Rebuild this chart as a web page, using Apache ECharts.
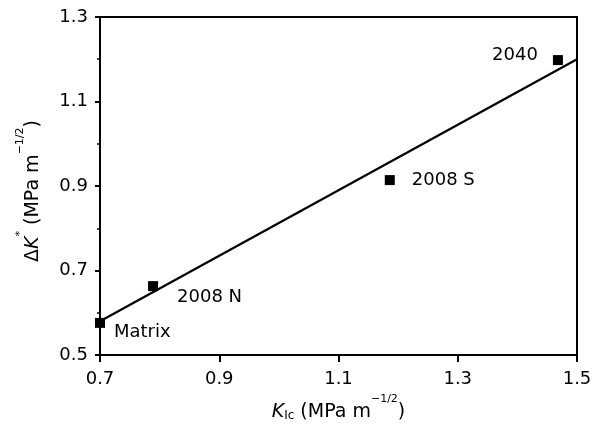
<!DOCTYPE html>
<html><head><meta charset="utf-8">
<script src="https://cdn.jsdelivr.net/npm/echarts@6/dist/echarts.min.js"></script>
<style>html,body{margin:0;padding:0;background:#fff}#c{width:599px;height:437px}</style>
</head><body><div id="c"></div>
<script>
var names = ['Matrix', '2008 N', '2008 S', '2040'];
var kic = [0.70, 0.789, 1.186, 1.468];
var dk = [0.576, 0.663, 0.914, 1.198];
var fitX = [0.70, 1.50];
var fitY = [0.58, 1.20];
var xTicks = [0.7, 0.9, 1.1, 1.3, 1.5];
var yTicks = [0.5, 0.7, 0.9, 1.1, 1.3];

var FONT = 'DejaVu Sans, sans-serif';
var FS = 18;
var NFS = 19;
var labelCfg = {
  'Matrix': {position: 'right', offset: [4, 9]},
  '2008 N': {position: 'right', offset: [14, 11]},
  '2008 S': {position: 'right', offset: [12, 0]},
  '2040': {position: 'left', offset: [-10, -5]}
};
var pts = names.map(function (n, i) {
  return {name: n, value: [kic[i], dk[i]], label: labelCfg[n]};
});
var fit = fitX.map(function (x, i) { return [x, fitY[i]]; });

var rich = {
  n: {fontSize: NFS, fontFamily: FONT, color: '#000', lineHeight: 28, verticalAlign: 'bottom'},
  i: {fontSize: NFS, fontFamily: FONT, fontStyle: 'italic', color: '#000', lineHeight: 28, verticalAlign: 'bottom'},
  sup: {fontSize: 11, fontFamily: FONT, color: '#000', lineHeight: 28, verticalAlign: 'top'},
  sub: {fontSize: 12, fontFamily: FONT, color: '#000', lineHeight: 24, verticalAlign: 'bottom'}
};

var chart = echarts.init(document.getElementById('c'));
chart.setOption({
  animation: false,
  grid: {left: 100, right: 22, top: 17, bottom: 82, show: true, borderColor: '#000', borderWidth: 2, backgroundColor: 'transparent'},
  xAxis: {
    type: 'value', min: 0.7, max: 1.5, interval: 0.2,
    name: '{i|K}{sub|Ic}{n| (MPa m}{sup|−1/2}{n|)}',
    nameLocation: 'middle', nameGap: 39,
    nameTextStyle: {rich: rich},
    axisLine: {lineStyle: {color: '#000', width: 2}},
    axisTick: {length: 7, lineStyle: {color: '#000', width: 2}},
    splitLine: {show: false},
    axisLabel: {fontSize: FS, fontFamily: FONT, color: '#000', margin: 15,
      formatter: function (v) { return xTicks.indexOf(Math.round(v * 10) / 10) >= 0 ? v.toFixed(1) : ''; }}
  },
  yAxis: {
    type: 'value', min: 0.5, max: 1.3, interval: 0.2,
    name: '{n|Δ}{i|K}{sup|*}{n| (MPa m}{sup|−1/2}{n|)}',
    nameLocation: 'middle', nameGap: 57, nameRotate: 90,
    nameTextStyle: {rich: rich, padding: [0, 10, 0, 0]},
    axisLine: {lineStyle: {color: '#000', width: 2}},
    axisTick: {length: 5, lineStyle: {color: '#000', width: 2}},
    minorTick: {show: true, splitNumber: 2, length: 3, lineStyle: {color: '#000', width: 1.5}},
    splitLine: {show: false},
    axisLabel: {fontSize: FS, fontFamily: FONT, color: '#000', margin: 12,
      formatter: function (v) { return yTicks.indexOf(Math.round(v * 10) / 10) >= 0 ? v.toFixed(1) : ''; }}
  },
  series: [
    {type: 'line', data: fit, symbol: 'none', lineStyle: {color: '#000', width: 2.2}, silent: true},
    {type: 'scatter', data: pts, symbol: 'rect', symbolSize: 10, itemStyle: {color: '#000', opacity: 1},
      label: {show: true, formatter: '{b}', fontSize: FS, fontFamily: FONT, color: '#000'}}
  ]
});
</script></body></html>
